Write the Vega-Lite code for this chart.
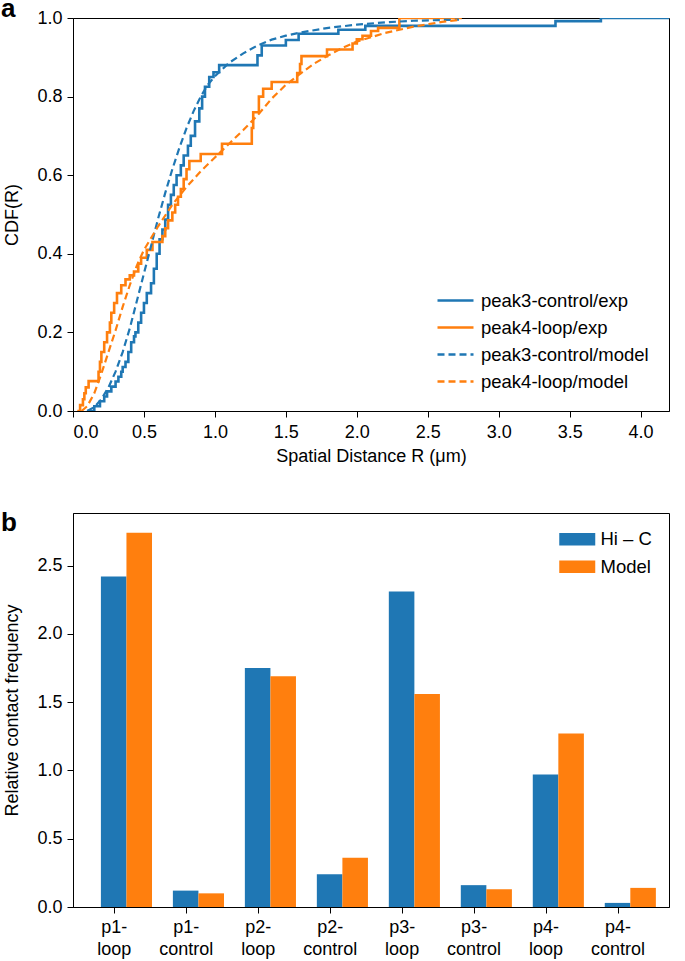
{
  "$schema": "https://vega.github.io/schema/vega-lite/v6.json",
  "padding": {"left": 0, "top": -5, "right": 10, "bottom": 0},
  "spacing": 43,
  "resolve": {"scale": {"color": "independent", "strokeDash": "independent"}, "legend": {"color": "independent", "strokeDash": "independent"}},
  "config": {
    "font": "Liberation Sans",
    "view": {"stroke": "#000", "strokeWidth": 1},
    "axis": {"labelFontSize": 18, "titleFontSize": 18, "labelColor": "#000", "titleColor": "#000", "domainColor": "#000", "tickColor": "#000", "tickSize": 6, "grid": false, "titleFontWeight": "normal", "labelPadding": 3},
    "legend": {"labelFontSize": 18.5, "labelColor": "#000", "padding": 0, "labelLimit": 0}
  },
  "datasets": {
    "exp": [
      {"series": "peak3-control/exp", "R": 0.10, "cdf": 0.000},
      {"series": "peak3-control/exp", "R": 0.15, "cdf": 0.012},
      {"series": "peak3-control/exp", "R": 0.19, "cdf": 0.025},
      {"series": "peak3-control/exp", "R": 0.22, "cdf": 0.037},
      {"series": "peak3-control/exp", "R": 0.24, "cdf": 0.050},
      {"series": "peak3-control/exp", "R": 0.27, "cdf": 0.062},
      {"series": "peak3-control/exp", "R": 0.30, "cdf": 0.075},
      {"series": "peak3-control/exp", "R": 0.32, "cdf": 0.087},
      {"series": "peak3-control/exp", "R": 0.34, "cdf": 0.100},
      {"series": "peak3-control/exp", "R": 0.35, "cdf": 0.112},
      {"series": "peak3-control/exp", "R": 0.37, "cdf": 0.125},
      {"series": "peak3-control/exp", "R": 0.39, "cdf": 0.150},
      {"series": "peak3-control/exp", "R": 0.41, "cdf": 0.175},
      {"series": "peak3-control/exp", "R": 0.43, "cdf": 0.190},
      {"series": "peak3-control/exp", "R": 0.44, "cdf": 0.200},
      {"series": "peak3-control/exp", "R": 0.46, "cdf": 0.225},
      {"series": "peak3-control/exp", "R": 0.48, "cdf": 0.250},
      {"series": "peak3-control/exp", "R": 0.50, "cdf": 0.275},
      {"series": "peak3-control/exp", "R": 0.52, "cdf": 0.300},
      {"series": "peak3-control/exp", "R": 0.55, "cdf": 0.325},
      {"series": "peak3-control/exp", "R": 0.57, "cdf": 0.362},
      {"series": "peak3-control/exp", "R": 0.59, "cdf": 0.400},
      {"series": "peak3-control/exp", "R": 0.61, "cdf": 0.437},
      {"series": "peak3-control/exp", "R": 0.63, "cdf": 0.462},
      {"series": "peak3-control/exp", "R": 0.65, "cdf": 0.487},
      {"series": "peak3-control/exp", "R": 0.67, "cdf": 0.525},
      {"series": "peak3-control/exp", "R": 0.69, "cdf": 0.550},
      {"series": "peak3-control/exp", "R": 0.71, "cdf": 0.575},
      {"series": "peak3-control/exp", "R": 0.73, "cdf": 0.600},
      {"series": "peak3-control/exp", "R": 0.76, "cdf": 0.625},
      {"series": "peak3-control/exp", "R": 0.78, "cdf": 0.650},
      {"series": "peak3-control/exp", "R": 0.81, "cdf": 0.675},
      {"series": "peak3-control/exp", "R": 0.83, "cdf": 0.700},
      {"series": "peak3-control/exp", "R": 0.86, "cdf": 0.737},
      {"series": "peak3-control/exp", "R": 0.89, "cdf": 0.770},
      {"series": "peak3-control/exp", "R": 0.91, "cdf": 0.800},
      {"series": "peak3-control/exp", "R": 0.93, "cdf": 0.825},
      {"series": "peak3-control/exp", "R": 0.96, "cdf": 0.850},
      {"series": "peak3-control/exp", "R": 0.99, "cdf": 0.862},
      {"series": "peak3-control/exp", "R": 1.03, "cdf": 0.880},
      {"series": "peak3-control/exp", "R": 1.30, "cdf": 0.905},
      {"series": "peak3-control/exp", "R": 1.33, "cdf": 0.930},
      {"series": "peak3-control/exp", "R": 1.50, "cdf": 0.944},
      {"series": "peak3-control/exp", "R": 1.59, "cdf": 0.960},
      {"series": "peak3-control/exp", "R": 1.87, "cdf": 0.970},
      {"series": "peak3-control/exp", "R": 2.06, "cdf": 0.980},
      {"series": "peak3-control/exp", "R": 3.40, "cdf": 0.992},
      {"series": "peak3-control/exp", "R": 3.72, "cdf": 1.000},
      {"series": "peak3-control/exp", "R": 4.30, "cdf": 1.000},
      {"series": "peak4-loop/exp", "R": 0.03, "cdf": 0.000},
      {"series": "peak4-loop/exp", "R": 0.05, "cdf": 0.015},
      {"series": "peak4-loop/exp", "R": 0.07, "cdf": 0.030},
      {"series": "peak4-loop/exp", "R": 0.08, "cdf": 0.045},
      {"series": "peak4-loop/exp", "R": 0.09, "cdf": 0.060},
      {"series": "peak4-loop/exp", "R": 0.11, "cdf": 0.076},
      {"series": "peak4-loop/exp", "R": 0.18, "cdf": 0.100},
      {"series": "peak4-loop/exp", "R": 0.19, "cdf": 0.125},
      {"series": "peak4-loop/exp", "R": 0.20, "cdf": 0.150},
      {"series": "peak4-loop/exp", "R": 0.22, "cdf": 0.175},
      {"series": "peak4-loop/exp", "R": 0.24, "cdf": 0.200},
      {"series": "peak4-loop/exp", "R": 0.26, "cdf": 0.225},
      {"series": "peak4-loop/exp", "R": 0.27, "cdf": 0.250},
      {"series": "peak4-loop/exp", "R": 0.29, "cdf": 0.275},
      {"series": "peak4-loop/exp", "R": 0.31, "cdf": 0.300},
      {"series": "peak4-loop/exp", "R": 0.34, "cdf": 0.320},
      {"series": "peak4-loop/exp", "R": 0.37, "cdf": 0.335},
      {"series": "peak4-loop/exp", "R": 0.40, "cdf": 0.345},
      {"series": "peak4-loop/exp", "R": 0.43, "cdf": 0.355},
      {"series": "peak4-loop/exp", "R": 0.46, "cdf": 0.375},
      {"series": "peak4-loop/exp", "R": 0.48, "cdf": 0.390},
      {"series": "peak4-loop/exp", "R": 0.52, "cdf": 0.410},
      {"series": "peak4-loop/exp", "R": 0.56, "cdf": 0.430},
      {"series": "peak4-loop/exp", "R": 0.63, "cdf": 0.445},
      {"series": "peak4-loop/exp", "R": 0.65, "cdf": 0.465},
      {"series": "peak4-loop/exp", "R": 0.67, "cdf": 0.485},
      {"series": "peak4-loop/exp", "R": 0.70, "cdf": 0.505},
      {"series": "peak4-loop/exp", "R": 0.72, "cdf": 0.525},
      {"series": "peak4-loop/exp", "R": 0.74, "cdf": 0.545},
      {"series": "peak4-loop/exp", "R": 0.76, "cdf": 0.565},
      {"series": "peak4-loop/exp", "R": 0.78, "cdf": 0.590},
      {"series": "peak4-loop/exp", "R": 0.80, "cdf": 0.615},
      {"series": "peak4-loop/exp", "R": 0.82, "cdf": 0.636},
      {"series": "peak4-loop/exp", "R": 0.90, "cdf": 0.654},
      {"series": "peak4-loop/exp", "R": 1.05, "cdf": 0.680},
      {"series": "peak4-loop/exp", "R": 1.26, "cdf": 0.720},
      {"series": "peak4-loop/exp", "R": 1.27, "cdf": 0.760},
      {"series": "peak4-loop/exp", "R": 1.31, "cdf": 0.800},
      {"series": "peak4-loop/exp", "R": 1.34, "cdf": 0.820},
      {"series": "peak4-loop/exp", "R": 1.40, "cdf": 0.837},
      {"series": "peak4-loop/exp", "R": 1.58, "cdf": 0.860},
      {"series": "peak4-loop/exp", "R": 1.60, "cdf": 0.883},
      {"series": "peak4-loop/exp", "R": 1.61, "cdf": 0.903},
      {"series": "peak4-loop/exp", "R": 1.79, "cdf": 0.920},
      {"series": "peak4-loop/exp", "R": 1.97, "cdf": 0.935},
      {"series": "peak4-loop/exp", "R": 2.00, "cdf": 0.946},
      {"series": "peak4-loop/exp", "R": 2.04, "cdf": 0.955},
      {"series": "peak4-loop/exp", "R": 2.10, "cdf": 0.967},
      {"series": "peak4-loop/exp", "R": 2.15, "cdf": 0.975},
      {"series": "peak4-loop/exp", "R": 2.30, "cdf": 1.000},
      {"series": "peak4-loop/exp", "R": 2.74, "cdf": 1.000}
    ],
    "model": [
      {"series": "peak3-control/model", "R": 0.10, "cdf": 0.000},
      {"series": "peak3-control/model", "R": 0.15, "cdf": 0.010},
      {"series": "peak3-control/model", "R": 0.20, "cdf": 0.030},
      {"series": "peak3-control/model", "R": 0.25, "cdf": 0.060},
      {"series": "peak3-control/model", "R": 0.30, "cdf": 0.100},
      {"series": "peak3-control/model", "R": 0.35, "cdf": 0.150},
      {"series": "peak3-control/model", "R": 0.40, "cdf": 0.210},
      {"series": "peak3-control/model", "R": 0.45, "cdf": 0.280},
      {"series": "peak3-control/model", "R": 0.50, "cdf": 0.350},
      {"series": "peak3-control/model", "R": 0.55, "cdf": 0.420},
      {"series": "peak3-control/model", "R": 0.60, "cdf": 0.490},
      {"series": "peak3-control/model", "R": 0.65, "cdf": 0.555},
      {"series": "peak3-control/model", "R": 0.70, "cdf": 0.615},
      {"series": "peak3-control/model", "R": 0.75, "cdf": 0.670},
      {"series": "peak3-control/model", "R": 0.80, "cdf": 0.720},
      {"series": "peak3-control/model", "R": 0.85, "cdf": 0.763},
      {"series": "peak3-control/model", "R": 0.90, "cdf": 0.800},
      {"series": "peak3-control/model", "R": 0.95, "cdf": 0.830},
      {"series": "peak3-control/model", "R": 1.00, "cdf": 0.852},
      {"series": "peak3-control/model", "R": 1.10, "cdf": 0.886},
      {"series": "peak3-control/model", "R": 1.20, "cdf": 0.910},
      {"series": "peak3-control/model", "R": 1.30, "cdf": 0.930},
      {"series": "peak3-control/model", "R": 1.40, "cdf": 0.945},
      {"series": "peak3-control/model", "R": 1.50, "cdf": 0.955},
      {"series": "peak3-control/model", "R": 1.60, "cdf": 0.963},
      {"series": "peak3-control/model", "R": 1.80, "cdf": 0.975},
      {"series": "peak3-control/model", "R": 2.00, "cdf": 0.983},
      {"series": "peak3-control/model", "R": 2.20, "cdf": 0.989},
      {"series": "peak3-control/model", "R": 2.40, "cdf": 0.993},
      {"series": "peak3-control/model", "R": 2.72, "cdf": 0.996},
      {"series": "peak4-loop/model", "R": 0.06, "cdf": 0.000},
      {"series": "peak4-loop/model", "R": 0.10, "cdf": 0.012},
      {"series": "peak4-loop/model", "R": 0.15, "cdf": 0.045},
      {"series": "peak4-loop/model", "R": 0.20, "cdf": 0.095},
      {"series": "peak4-loop/model", "R": 0.25, "cdf": 0.150},
      {"series": "peak4-loop/model", "R": 0.30, "cdf": 0.205},
      {"series": "peak4-loop/model", "R": 0.35, "cdf": 0.265},
      {"series": "peak4-loop/model", "R": 0.40, "cdf": 0.320},
      {"series": "peak4-loop/model", "R": 0.45, "cdf": 0.370},
      {"series": "peak4-loop/model", "R": 0.50, "cdf": 0.410},
      {"series": "peak4-loop/model", "R": 0.60, "cdf": 0.470},
      {"series": "peak4-loop/model", "R": 0.70, "cdf": 0.525},
      {"series": "peak4-loop/model", "R": 0.80, "cdf": 0.570},
      {"series": "peak4-loop/model", "R": 0.90, "cdf": 0.610},
      {"series": "peak4-loop/model", "R": 1.00, "cdf": 0.645},
      {"series": "peak4-loop/model", "R": 1.10, "cdf": 0.680},
      {"series": "peak4-loop/model", "R": 1.20, "cdf": 0.715},
      {"series": "peak4-loop/model", "R": 1.30, "cdf": 0.752},
      {"series": "peak4-loop/model", "R": 1.40, "cdf": 0.795},
      {"series": "peak4-loop/model", "R": 1.50, "cdf": 0.830},
      {"series": "peak4-loop/model", "R": 1.60, "cdf": 0.858},
      {"series": "peak4-loop/model", "R": 1.70, "cdf": 0.884},
      {"series": "peak4-loop/model", "R": 1.80, "cdf": 0.905},
      {"series": "peak4-loop/model", "R": 1.90, "cdf": 0.924},
      {"series": "peak4-loop/model", "R": 2.00, "cdf": 0.940},
      {"series": "peak4-loop/model", "R": 2.20, "cdf": 0.962},
      {"series": "peak4-loop/model", "R": 2.40, "cdf": 0.978},
      {"series": "peak4-loop/model", "R": 2.60, "cdf": 0.990},
      {"series": "peak4-loop/model", "R": 2.72, "cdf": 0.995}
    ],
    "bars": [
      {"pair": "p1-loop", "source": "Hi – C", "value": 2.42},
      {"pair": "p1-loop", "source": "Model", "value": 2.74},
      {"pair": "p1-control", "source": "Hi – C", "value": 0.12},
      {"pair": "p1-control", "source": "Model", "value": 0.10},
      {"pair": "p2-loop", "source": "Hi – C", "value": 1.75},
      {"pair": "p2-loop", "source": "Model", "value": 1.69},
      {"pair": "p2-control", "source": "Hi – C", "value": 0.24},
      {"pair": "p2-control", "source": "Model", "value": 0.36},
      {"pair": "p3-loop", "source": "Hi – C", "value": 2.31},
      {"pair": "p3-loop", "source": "Model", "value": 1.56},
      {"pair": "p3-control", "source": "Hi – C", "value": 0.16},
      {"pair": "p3-control", "source": "Model", "value": 0.13},
      {"pair": "p4-loop", "source": "Hi – C", "value": 0.97},
      {"pair": "p4-loop", "source": "Model", "value": 1.27},
      {"pair": "p4-control", "source": "Hi – C", "value": 0.03},
      {"pair": "p4-control", "source": "Model", "value": 0.14}
    ]
  },
  "vconcat": [
    {
      "width": 596,
      "height": 393,
      "title": {"text": "a", "anchor": "start", "frame": "group", "fontSize": 26, "fontWeight": "bold", "dx": -72, "offset": -13, "color": "#000"},
      "layer": [
        {
          "data": {"name": "exp"},
          "mark": {"type": "line", "interpolate": "step-after", "strokeWidth": 2.6, "clip": true},
          "encoding": {
            "x": {"field": "R", "type": "quantitative", "scale": {"domain": [0, 4.2], "nice": false}, "axis": {"values": [0, 0.5, 1, 1.5, 2, 2.5, 3, 3.5, 4], "format": ".1f", "title": "Spatial Distance R (μm)", "titlePadding": 6, "labelPadding": 6}},
            "y": {"field": "cdf", "type": "quantitative", "scale": {"domain": [0, 1], "nice": false}, "axis": {"values": [0, 0.2, 0.4, 0.6, 0.8, 1], "format": ".1f", "title": "CDF(R)", "titlePadding": 15, "labelPadding": 5}},
            "color": {"field": "series", "type": "nominal", "scale": {"domain": ["peak3-control/exp", "peak4-loop/exp", "peak3-control/model", "peak4-loop/model"], "range": ["#1f77b4", "#ff7f0e", "#1f77b4", "#ff7f0e"]}, "legend": {"title": null, "orient": "bottom-right", "offset": 20, "symbolType": "M-2,0H2", "symbolSize": 324, "symbolStrokeWidth": 2.6, "labelOffset": 15, "rowPadding": 7}},
            "strokeDash": {"field": "series", "type": "nominal", "scale": {"domain": ["peak3-control/exp", "peak4-loop/exp", "peak3-control/model", "peak4-loop/model"], "range": [[1, 0], [1, 0], [7, 4], [7, 4]]}, "legend": {"title": null, "orient": "bottom-right", "offset": 20, "symbolType": "M-2,0H2", "symbolSize": 324, "symbolStrokeWidth": 2.6, "labelOffset": 15, "rowPadding": 7}}
          }
        },
        {
          "data": {"name": "model"},
          "mark": {"type": "line", "strokeWidth": 2.2, "clip": true},
          "encoding": {
            "x": {"field": "R", "type": "quantitative"},
            "y": {"field": "cdf", "type": "quantitative"},
            "color": {"field": "series", "type": "nominal"},
            "strokeDash": {"field": "series", "type": "nominal"}
          }
        }
      ]
    },
    {
      "width": 596,
      "height": 394,
      "title": {"text": "b", "anchor": "start", "frame": "group", "fontSize": 26, "fontWeight": "bold", "dx": -72, "offset": -23, "color": "#000"},
      "data": {"name": "bars"},
      "mark": {"type": "bar"},
      "encoding": {
        "x": {"field": "pair", "type": "nominal", "sort": null, "scale": {"paddingInner": 0.29, "paddingOuter": 0.285, "align": 0.68}, "axis": {"title": null, "labelAngle": 0, "tickOffset": -12.75, "labelExpr": "[split(datum.label, '-')[0] + '-', split(datum.label, '-')[1]]", "labelLineHeight": 22, "labelPadding": 5}},
        "xOffset": {"field": "source", "type": "nominal", "sort": null, "scale": {"paddingInner": 0, "paddingOuter": 0}},
        "y": {"field": "value", "type": "quantitative", "scale": {"domain": [0, 2.885], "nice": false}, "axis": {"values": [0, 0.5, 1, 1.5, 2, 2.5], "format": ".1f", "title": "Relative contact frequency", "titlePadding": 15, "labelPadding": 5}},
        "color": {"field": "source", "type": "nominal", "sort": null, "scale": {"domain": ["Hi – C", "Model"], "range": ["#1f77b4", "#ff7f0e"]}, "legend": {"title": null, "orient": "top-right", "offset": 17, "symbolType": "M-2,-0.7H2V0.7H-2Z", "symbolSize": 324, "symbolStrokeWidth": 0, "symbolOpacity": 1, "labelOffset": 14, "rowPadding": 8.5}}
      }
    }
  ]
}
